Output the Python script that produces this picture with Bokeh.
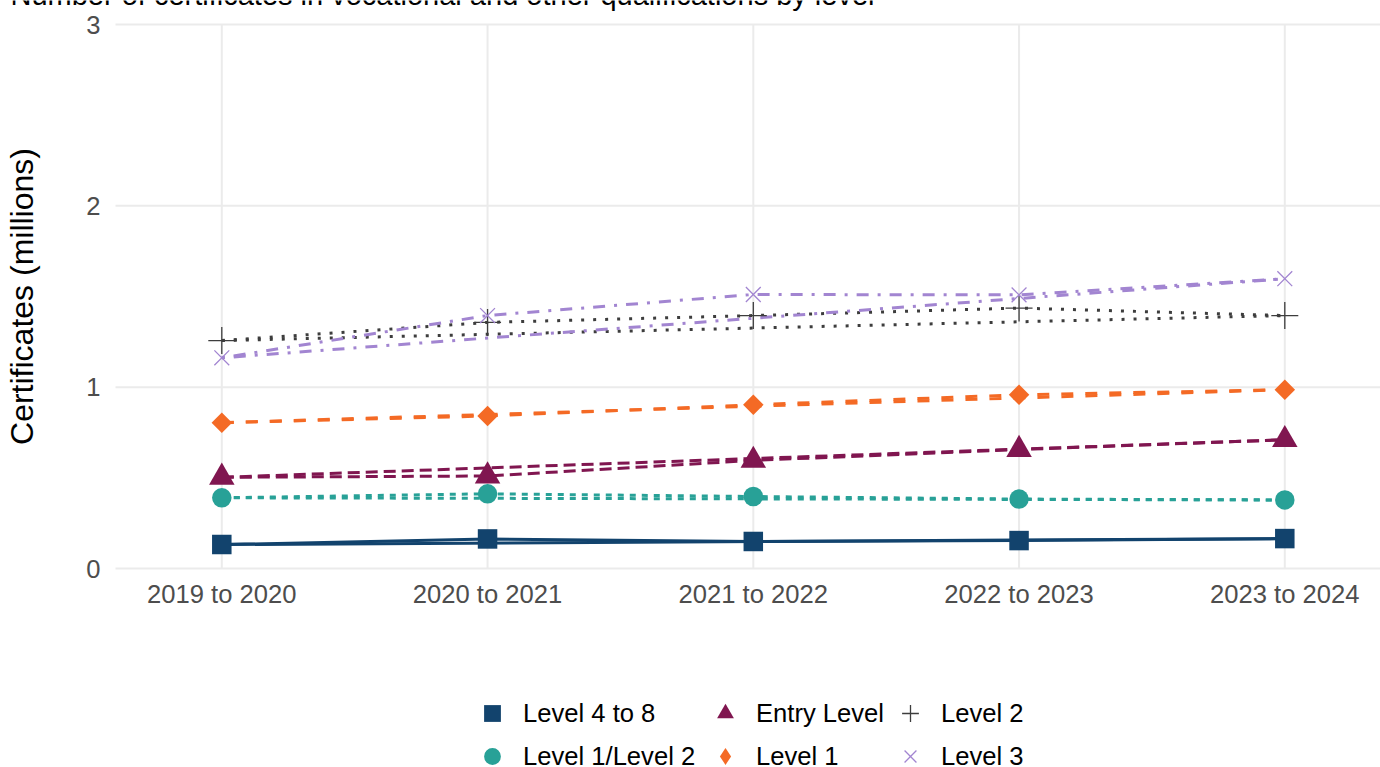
import numpy as np
from bokeh.plotting import figure
from bokeh.models import Range1d, FixedTicker, Legend, LegendItem, Label
from bokeh.embed import file_html
from bokeh.resources import INLINE

# ---------------- data ----------------
periods = ["2019 to 2020", "2020 to 2021", "2021 to 2022", "2022 to 2023", "2023 to 2024"]
level_4_to_8 = [0.132, 0.163, 0.149, 0.154, 0.165]
level_1_level_2 = [0.390, 0.412, 0.397, 0.383, 0.378]
entry_level = [0.503, 0.510, 0.596, 0.656, 0.710]
level_1 = [0.804, 0.841, 0.903, 0.958, 0.986]
level_2 = [1.257, 1.357, 1.395, 1.436, 1.395]
level_3 = [1.162, 1.395, 1.511, 1.509, 1.598]
series_names = ["Level 4 to 8", "Level 1/Level 2", "Entry Level", "Level 1", "Level 2", "Level 3"]
y_ticks = [0, 1, 2, 3]
title_text = "Number of certificates in vocational and other qualifications by level"
y_title = "Certificates (millions)"

series_values = [level_4_to_8, level_1_level_2, entry_level, level_1, level_2, level_3]

# ---------------- styles ----------------
styles = {
    "Level 4 to 8":    dict(color="#12436D", dash="solid",    marker="square",   size=19.5, angle=0.0, thin=False, legend_marker=None),
    "Level 1/Level 2": dict(color="#28A197", dash="6 6",      marker="circle",   size=19.5, angle=0.0, thin=False, legend_marker=None),
    "Entry Level":     dict(color="#801650", dash="12 6",     marker="triangle", size=25.5, angle=0.0, thin=False, legend_marker=None),
    "Level 1":         dict(color="#F46A25", dash="12 12",    marker="square",   size=14.5, angle=np.pi / 4, thin=False, legend_marker="diamond"),
    "Level 2":         dict(color="#3D3D3D", dash="3 9",      marker="cross",    size=27.0, angle=0.0, thin=True, legend_marker=None),
    "Level 3":         dict(color="#A285D1", dash="3 9 12 9", marker="x",        size=21.0, angle=0.0, thin=True, legend_marker=None),
}

FONT = "Liberation Sans"
W, H = 1380, 767
# pixel geometry of the plotting panel inside the canvas
PANEL_LEFT, PANEL_TOP, PANEL_BOTTOM = 115, 24, 568
PX_PER_CAT = 265.75
Y_MAX = 3.0
PX_PER_UNIT = (PANEL_BOTTOM - PANEL_TOP) / Y_MAX
X_LO = 0.6

x_pos = [i + 1 for i in range(len(periods))]

# the frame fills the whole canvas; axes are pinned at the panel edges
x_range = Range1d(X_LO - PANEL_LEFT / PX_PER_CAT, X_LO + (W - PANEL_LEFT) / PX_PER_CAT)
y_range = Range1d(-(H - PANEL_BOTTOM) / PX_PER_UNIT, Y_MAX + PANEL_TOP / PX_PER_UNIT)

p = figure(width=W, height=H, output_backend="svg", toolbar_location=None,
           x_range=x_range, y_range=y_range,
           min_border_left=0, min_border_right=0, min_border_top=0, min_border_bottom=0)
p.outline_line_color = None
p.background_fill_color = "white"
p.border_fill_color = "white"
p.xgrid.visible = False
p.ygrid.visible = False

# panel grid lines (from the tick values)
p.segment(x0=[X_LO] * len(y_ticks), x1=[x_range.end] * len(y_ticks), y0=y_ticks, y1=y_ticks,
          line_color="#EBEBEB", line_width=2)
p.segment(x0=x_pos, x1=x_pos, y0=[0] * len(x_pos), y1=[Y_MAX] * len(x_pos),
          line_color="#EBEBEB", line_width=2)

# axes
p.xaxis.fixed_location = 0
p.yaxis.fixed_location = X_LO
p.yaxis.bounds = (0, Y_MAX)
p.xaxis.ticker = FixedTicker(ticks=x_pos)
p.xaxis.major_label_overrides = {x: lab for x, lab in zip(x_pos, periods)}
p.yaxis.ticker = FixedTicker(ticks=y_ticks)
for ax in (p.xaxis, p.yaxis):
    ax.axis_line_color = None
    ax.major_tick_line_color = None
    ax.minor_tick_line_color = None
    ax.major_tick_out = 0
    ax.major_tick_in = 0
    ax.major_label_text_font = FONT
    ax.major_label_text_font_size = "25.6px"
    ax.major_label_text_color = "#4D4D4D"
p.xaxis.major_label_standoff = 11
p.yaxis.major_label_standoff = 15
p.yaxis.axis_label = y_title
p.yaxis.axis_label_text_font = FONT
p.yaxis.axis_label_text_font_size = "32px"
p.yaxis.axis_label_text_font_style = "normal"
p.yaxis.axis_label_text_color = "black"
p.yaxis.axis_label_standoff = 43

# lines: data line + first-to-last line
for name, vals in zip(series_names, series_values):
    st = styles[name]
    p.line(x_pos, vals, line_color=st["color"], line_width=3, line_dash=st["dash"])
    p.line([x_pos[0], x_pos[-1]], [vals[0], vals[-1]], line_color=st["color"],
           line_width=3, line_dash=st["dash"])

legend_renderers = {}
for name, vals in zip(series_names, series_values):
    st = styles[name]
    if st["thin"]:
        r = p.scatter(x_pos, vals, marker=st["marker"], size=st["size"],
                      line_color=st["color"], line_width=1.3, fill_color=None)
    else:
        r = p.scatter(x_pos, vals, marker=st["marker"], size=st["size"], angle=st["angle"],
                      fill_color=st["color"], line_color=None)
    if st["legend_marker"] is not None:
        # legend key only (zero size on the plot)
        r = p.scatter(x_pos, vals, marker=st["legend_marker"], size=0,
                      fill_color=st["color"], line_color=None)
    legend_renderers[name] = r

# legends (three columns of two items, column-major order)
col_x = [471, 704, 889]
for c in range(3):
    items = [LegendItem(label=series_names[2 * c + k], renderers=[legend_renderers[series_names[2 * c + k]]])
             for k in range(2)]
    lg = Legend(items=items, location=(col_x[c], -10), orientation="vertical",
                glyph_width=42, glyph_height=42, spacing=1, padding=0, margin=0,
                label_standoff=10, label_text_font=FONT, label_text_font_size="25.6px",
                label_text_color="black", border_line_color=None, background_fill_alpha=0)
    p.add_layout(lg, "center")

# title (mostly above the top edge, as in the reference)
p.add_layout(Label(x=10, y=H + 6, x_units="screen", y_units="screen",
                   text=title_text, text_font=FONT, text_font_size="29px",
                   text_color="black", text_baseline="alphabetic", text_align="left"))

open("out.html", "w").write(file_html(p, INLINE))
